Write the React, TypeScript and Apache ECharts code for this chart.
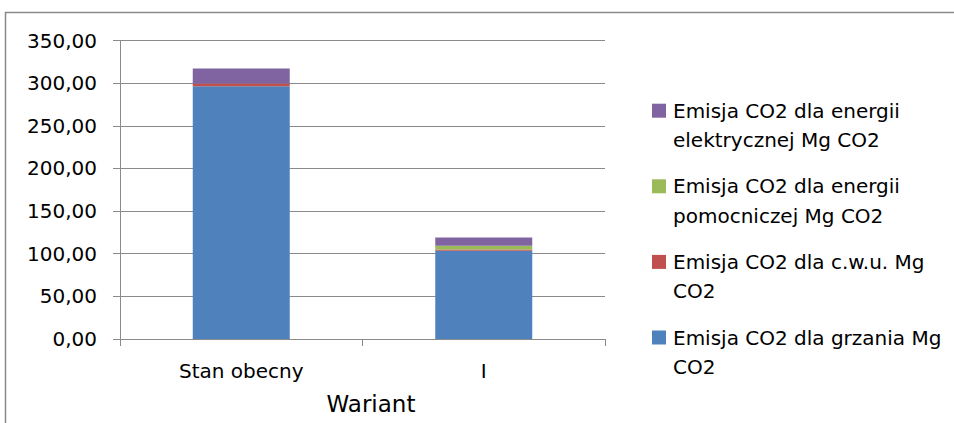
import React, { useEffect, useRef } from "react";
import * as echarts from "echarts";

const categories = ["Stan obecny", "I"];
const seriesNames = [
  "Emisja CO2 dla grzania Mg CO2",
  "Emisja CO2 dla c.w.u. Mg CO2",
  "Emisja CO2 dla energii pomocniczej Mg CO2",
  "Emisja CO2 dla energii elektrycznej Mg CO2",
];
const legendLines = [
  ["Emisja CO2 dla grzania Mg", "CO2"],
  ["Emisja CO2 dla c.w.u. Mg", "CO2"],
  ["Emisja CO2 dla energii", "pomocniczej Mg CO2"],
  ["Emisja CO2 dla energii", "elektrycznej Mg CO2"],
];
const heating = [296.3, 103.4];
const cwu = [3.2, 1.6];
const auxiliary = [0, 4.2];
const electric = [17.8, 9.8];
const colors = ["#4F81BD", "#C0504D", "#9BBB59", "#8064A2"];
const yTicks = { min: 0, max: 350, interval: 50 };
const axisTitle = "Wariant";

const FONT = "DejaVu Sans";
const GREY = "#8a8a8a";

export default function App() {
  const ref = useRef<HTMLDivElement>(null);
  useEffect(() => {
    if (!ref.current) return;
    const chart = echarts.init(ref.current, undefined, { renderer: "svg" });
    const data = [heating, cwu, auxiliary, electric];
    const legendGraphics: any[] = [];
    const order = [3, 2, 1, 0];
    const startY = 110.7;
    const itemGap = 75.6;
    const lineH = 29.2;
    order.forEach((si, i) => {
      const cy = startY + i * itemGap;
      legendGraphics.push({
        type: "rect",
        shape: { x: 652, y: cy - 7, width: 14, height: 14 },
        style: { fill: colors[si] },
        silent: true,
      });
      legendLines[si].forEach((ln, li) => {
        legendGraphics.push({
          type: "text",
          x: 673,
          y: cy + li * lineH,
          style: {
            text: ln,
            font: `20px "${FONT}"`,
            fill: "#000",
            textVerticalAlign: "middle",
            textAlign: "left",
          },
          silent: true,
        });
      });
    });
    chart.setOption({
      animation: false,
      backgroundColor: "#fff",
      textStyle: { fontFamily: FONT },
      grid: { left: 120, right: 349, top: 40.5, bottom: 84, containLabel: false },
      xAxis: {
        type: "category",
        data: categories,
        axisLine: { lineStyle: { color: GREY, width: 1 } },
        axisTick: { show: true, length: 7, lineStyle: { color: GREY } },
        axisLabel: { color: "#000", fontSize: 20, fontFamily: FONT, margin: 22 },
      },
      yAxis: {
        type: "value",
        min: yTicks.min,
        max: yTicks.max,
        interval: yTicks.interval,
        axisLine: { show: true, lineStyle: { color: GREY, width: 1 } },
        axisTick: { show: true, length: 7, lineStyle: { color: GREY } },
        splitLine: { show: true, lineStyle: { color: GREY, width: 1 } },
        axisLabel: {
          color: "#000",
          fontSize: 20,
          fontFamily: FONT,
          margin: 23,
          formatter: (v: number) => v.toFixed(2).replace(".", ","),
        },
      },
      series: seriesNames.map((name, i) => ({
        name,
        type: "bar",
        stack: "total",
        barWidth: "40%",
        data: data[i],
        itemStyle: { color: colors[i] },
      })),
      graphic: [
        {
          type: "rect",
          shape: { x: 5.5, y: 12.5, width: 980, height: 440 },
          style: { fill: "none", stroke: GREY, lineWidth: 1.5 },
          silent: true,
        },
        {
          type: "text",
          x: 371,
          y: 404,
          style: {
            text: axisTitle,
            font: `23px "${FONT}"`,
            fill: "#000",
            textAlign: "center",
            textVerticalAlign: "middle",
          },
          silent: true,
        },
        ...legendGraphics,
      ],
    });
    return () => chart.dispose();
  }, []);
  return (
    <div
      ref={ref}
      style={{ position: "absolute", left: 0, top: 0, width: 954, height: 423 }}
    />
  );
}
